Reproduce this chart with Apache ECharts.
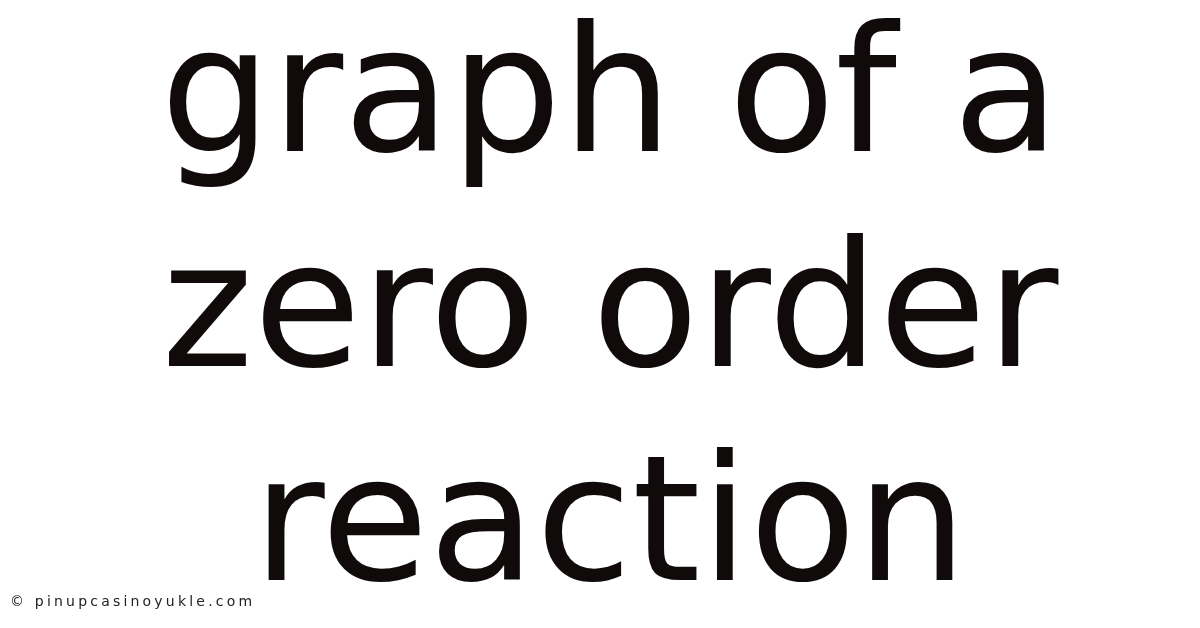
<!DOCTYPE html>
<html>
<head>
<meta charset="utf-8">
<script src="https://cdn.jsdelivr.net/npm/echarts@6/dist/echarts.min.js"></script>
<style>
html,body{margin:0;padding:0;background:#fff;}
#wrap{position:relative;width:1200px;height:628px;}
#main,#mark{position:absolute;left:0;top:0;width:1200px;height:628px;}
#mark svg text{letter-spacing:3.2px;}
</style>
</head>
<body>
<div id="wrap"><div id="main"></div><div id="mark"></div></div>
<script>
var titleLines = ['graph of a', 'zero order', 'reaction'];
var watermark = '\u00a9 pinupcasinoyukle.com';

var FS = 175;
var baselines = [166, 381, 595];
var chart = echarts.init(document.getElementById('main'));
var elements = titleLines.map(function (t, i) {
  return {
    type: 'text',
    x: 610,
    y: baselines[i] - 0.346 * FS,
    style: {
      text: t,
      font: FS + 'px "DejaVu Sans"',
      fill: '#110a0a',
      align: 'center',
      verticalAlign: 'middle'
    }
  };
});
chart.setOption({
  backgroundColor: '#ffffff',
  animation: false,
  graphic: { elements: elements }
});

var mark = echarts.init(document.getElementById('mark'), null, { renderer: 'svg' });
mark.setOption({
  animation: false,
  graphic: { elements: [{
    type: 'text',
    x: 10,
    y: 601,
    style: {
      text: watermark,
      font: '14px "DejaVu Sans"',
      fill: '#222222',
      align: 'left',
      verticalAlign: 'middle'
    }
  }] }
});
</script>
</body>
</html>
